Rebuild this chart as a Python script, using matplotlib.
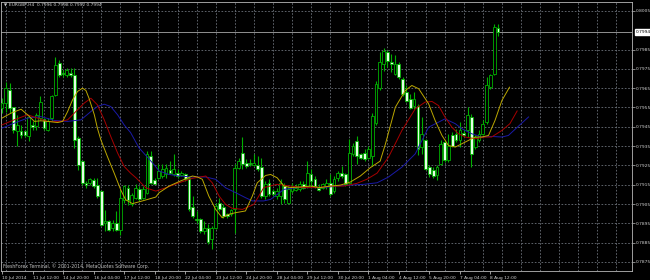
import matplotlib.pyplot as plt
from matplotlib.patches import Rectangle
from matplotlib.transforms import blended_transform_factory

# EURGBP H4 candles (one row per bar)
opens = [0.79547, 0.79572, 0.79641, 0.79552, 0.79426, 0.79426, 0.79426, 0.79400, 0.79460, 0.79452,
         0.79495, 0.79490, 0.79434, 0.79495, 0.79616, 0.79779, 0.79728, 0.79719, 0.79728, 0.79719,
         0.79391, 0.79271, 0.79159, 0.79159, 0.79176, 0.79150, 0.79116, 0.78952, 0.78960, 0.78926,
         0.78952, 0.78917, 0.79072, 0.79133, 0.79052, 0.79083, 0.79126, 0.79083, 0.79109, 0.79298,
         0.79172, 0.79186, 0.79195, 0.79203, 0.79224, 0.79203, 0.79212, 0.79200, 0.79203, 0.79186,
         0.79035, 0.78974, 0.78974, 0.78910, 0.78928, 0.78867, 0.78928, 0.79057, 0.79035, 0.78997,
         0.78997, 0.79022, 0.79238, 0.79316, 0.79264, 0.79264, 0.79250, 0.79250, 0.79243, 0.79091,
         0.79160, 0.79117, 0.79091, 0.79091, 0.79143, 0.79057, 0.79117, 0.79122, 0.79126, 0.79152,
         0.79143, 0.79203, 0.79181, 0.79135, 0.79135, 0.79143, 0.79160, 0.79117, 0.79186, 0.79212,
         0.79203, 0.79160, 0.79307, 0.79376, 0.79307, 0.79316, 0.79290, 0.79298, 0.79470, 0.79650,
         0.79776, 0.79840, 0.79784, 0.79724, 0.79776, 0.79698, 0.79629, 0.79595, 0.79560, 0.79560,
         0.79345, 0.79379, 0.79241, 0.79228, 0.79198, 0.79259, 0.79371, 0.79276, 0.79405, 0.79414,
         0.79379, 0.79417, 0.79431, 0.79500, 0.79345, 0.79379, 0.79414, 0.79474, 0.79655, 0.79724,
         0.79960]
highs = [0.79598, 0.79684, 0.79676, 0.79555, 0.79512, 0.79460, 0.79434, 0.79512, 0.79478, 0.79521,
         0.79607, 0.79495, 0.79495, 0.79616, 0.79814, 0.79797, 0.79745, 0.79753, 0.79753, 0.79753,
         0.79400, 0.79279, 0.79167, 0.79185, 0.79185, 0.79185, 0.79124, 0.79021, 0.78966, 0.78969,
         0.79012, 0.79124, 0.79150, 0.79150, 0.79109, 0.79152, 0.79143, 0.79143, 0.79324, 0.79324,
         0.79186, 0.79255, 0.79255, 0.79255, 0.79272, 0.79307, 0.79229, 0.79221, 0.79212, 0.79195,
         0.79091, 0.79014, 0.78979, 0.78962, 0.78945, 0.78936, 0.79057, 0.79083, 0.79048, 0.79005,
         0.79022, 0.79255, 0.79290, 0.79397, 0.79281, 0.79281, 0.79307, 0.79298, 0.79290, 0.79169,
         0.79178, 0.79126, 0.79135, 0.79178, 0.79160, 0.79143, 0.79160, 0.79152, 0.79169, 0.79169,
         0.79272, 0.79229, 0.79195, 0.79152, 0.79160, 0.79178, 0.79203, 0.79195, 0.79221, 0.79247,
         0.79212, 0.79385, 0.79367, 0.79402, 0.79316, 0.79333, 0.79350, 0.79522, 0.79685, 0.79836,
         0.79858, 0.79850, 0.79828, 0.79820, 0.79784, 0.79707, 0.79664, 0.79621, 0.79629, 0.79569,
         0.79500, 0.79388, 0.79250, 0.79241, 0.79250, 0.79379, 0.79379, 0.79414, 0.79422, 0.79440,
         0.79474, 0.79431, 0.79552, 0.79517, 0.79405, 0.79431, 0.79483, 0.79707, 0.79724, 0.79983,
         0.79980]
lows = [0.79521, 0.79529, 0.79521, 0.79417, 0.79348, 0.79391, 0.79395, 0.79374, 0.79434, 0.79434,
        0.79486, 0.79434, 0.79426, 0.79478, 0.79607, 0.79710, 0.79710, 0.79710, 0.79710, 0.79340,
        0.79228, 0.79150, 0.79133, 0.79150, 0.79133, 0.79081, 0.78934, 0.78909, 0.78909, 0.78909,
        0.78909, 0.78891, 0.79055, 0.79047, 0.79040, 0.79074, 0.79066, 0.79074, 0.79100, 0.79152,
        0.79152, 0.79178, 0.79186, 0.79186, 0.79203, 0.79195, 0.79186, 0.79195, 0.79169, 0.79014,
        0.78979, 0.78953, 0.78902, 0.78893, 0.78841, 0.78816, 0.78919, 0.79014, 0.78979, 0.78979,
        0.78988, 0.78900, 0.79229, 0.79229, 0.79238, 0.79247, 0.79247, 0.79221, 0.79083, 0.79074,
        0.79091, 0.79091, 0.79074, 0.79048, 0.79057, 0.79048, 0.79109, 0.79117, 0.79117, 0.79126,
        0.79135, 0.79135, 0.79135, 0.79117, 0.79126, 0.79126, 0.79091, 0.79109, 0.79169, 0.79186,
        0.79143, 0.79152, 0.79298, 0.79255, 0.79281, 0.79272, 0.79285, 0.79247, 0.79460, 0.79640,
        0.79740, 0.79760, 0.79733, 0.79716, 0.79698, 0.79612, 0.79578, 0.79543, 0.79543, 0.79302,
        0.79310, 0.79224, 0.79190, 0.79186, 0.79172, 0.79250, 0.79267, 0.79267, 0.79345, 0.79371,
        0.79345, 0.79397, 0.79397, 0.79241, 0.79336, 0.79371, 0.79405, 0.79466, 0.79647, 0.79716,
        0.79920]
closes = [0.79572, 0.79650, 0.79547, 0.79434, 0.79460, 0.79409, 0.79409, 0.79503, 0.79448, 0.79512,
          0.79581, 0.79443, 0.79478, 0.79607, 0.79771, 0.79719, 0.79722, 0.79745, 0.79719, 0.79383,
          0.79253, 0.79159, 0.79150, 0.79179, 0.79141, 0.79090, 0.78943, 0.78960, 0.78917, 0.78952,
          0.78917, 0.79081, 0.79141, 0.79072, 0.79097, 0.79134, 0.79074, 0.79126, 0.79307, 0.79160,
          0.79155, 0.79221, 0.79229, 0.79238, 0.79212, 0.79229, 0.79195, 0.79212, 0.79178, 0.79022,
          0.78988, 0.78966, 0.78910, 0.78928, 0.78855, 0.78928, 0.79040, 0.79022, 0.78988, 0.78988,
          0.79017, 0.79238, 0.79272, 0.79255, 0.79247, 0.79255, 0.79264, 0.79229, 0.79091, 0.79152,
          0.79100, 0.79100, 0.79117, 0.79160, 0.79074, 0.79126, 0.79143, 0.79135, 0.79152, 0.79135,
          0.79212, 0.79169, 0.79143, 0.79122, 0.79152, 0.79160, 0.79100, 0.79178, 0.79212, 0.79195,
          0.79152, 0.79316, 0.79350, 0.79298, 0.79290, 0.79281, 0.79333, 0.79505, 0.79670, 0.79784,
          0.79845, 0.79790, 0.79776, 0.79776, 0.79707, 0.79621, 0.79586, 0.79548, 0.79595, 0.79336,
          0.79414, 0.79233, 0.79207, 0.79193, 0.79241, 0.79362, 0.79276, 0.79353, 0.79353, 0.79379,
          0.79431, 0.79405, 0.79509, 0.79310, 0.79397, 0.79414, 0.79466, 0.79664, 0.79716, 0.79966,
          0.79940]

# Alligator lines (lips / teeth / jaw), sampled along the drawn curves
lips_bar = [0, 2.4, 5.0, 6.7, 8.5, 10.2, 11.9, 14.6, 15.9, 17.2, 18.5, 19.8, 21.1, 22.0, 22.8,
            24.2, 25.0, 25.9, 27.6, 29.4, 31.1, 32.4, 34.2, 36.8, 40.3, 41.2, 43.8, 46.4, 49.9,
            51.2, 52.5, 54.2, 56.0, 57.7, 59.5, 61.2, 63.8, 65.6, 66.9, 69.1, 70.4, 72.1, 73.9,
            75.6, 78.2, 80.8, 83.4, 86.1, 88.7, 91.3, 93.9, 96.5, 99.1, 100.5, 103.1, 105.7, 107.4,
            109.2, 111.8, 113.5, 115.3, 117.0, 118.8, 120.5, 122.2, 124.0, 125.7, 127.5, 129.2,
            131.0, 133.0]
lips_val = [0.79495, 0.79521, 0.79541, 0.79512, 0.79478, 0.79481, 0.79478, 0.79472, 0.79478, 0.79529,
            0.79590, 0.79633, 0.79650, 0.79638, 0.79598, 0.79512, 0.79443, 0.79383, 0.79297, 0.79210,
            0.79124, 0.79072, 0.79052, 0.79066, 0.79086, 0.79109, 0.79143, 0.79166, 0.79195, 0.79190,
            0.79178, 0.79091, 0.79022, 0.78979, 0.78997, 0.79005, 0.79014, 0.79091, 0.79160, 0.79198,
            0.79203, 0.79186, 0.79143, 0.79135, 0.79138, 0.79143, 0.79135, 0.79143, 0.79148, 0.79164,
            0.79195, 0.79238, 0.79272, 0.79362, 0.79552, 0.79638, 0.79664, 0.79647, 0.79569, 0.79483,
            0.79405, 0.79353, 0.79345, 0.79362, 0.79379, 0.79397, 0.79397, 0.79405, 0.79483, 0.79586,
            0.79655]
teeth_bar = [0, 3.2, 6.7, 9.3, 11.9, 15.4, 17.2, 19.8, 21.5, 23.3, 25.0, 26.8, 28.5, 30.3, 32.0,
             33.7, 35.1, 37.7, 40.3, 42.9, 46.4, 49.9, 53.4, 55.1, 56.9, 58.6, 60.3, 63.0, 65.1,
             66.0, 68.6, 72.1, 75.6, 79.1, 82.6, 86.1, 89.5, 93.0, 95.6, 98.3, 101.3, 104.8, 108.3,
             110.9, 112.7, 114.4, 116.1, 117.9, 119.6, 121.4, 124.0, 126.6, 128.3, 131.0, 133.1, 135.0]
teeth_val = [0.79460, 0.79486, 0.79512, 0.79495, 0.79478, 0.79478, 0.79486, 0.79538, 0.79572, 0.79598,
             0.79564, 0.79486, 0.79400, 0.79314, 0.79245, 0.79210, 0.79186, 0.79134, 0.79117, 0.79134,
             0.79160, 0.79183, 0.79195, 0.79160, 0.79091, 0.79048, 0.79028, 0.79022, 0.79040, 0.79048,
             0.79135, 0.79152, 0.79143, 0.79135, 0.79135, 0.79143, 0.79143, 0.79157, 0.79178, 0.79210,
             0.79293, 0.79431, 0.79543, 0.79578, 0.79581, 0.79560, 0.79500, 0.79448, 0.79414, 0.79397,
             0.79388, 0.79397, 0.79397, 0.79431, 0.79466, 0.79532]
jaw_bar = [0, 3.2, 6.7, 10.2, 13.7, 17.2, 20.7, 23.3, 25.0, 26.8, 28.5, 30.3, 32.0, 33.7, 35.9,
           39.4, 41.2, 43.8, 46.4, 49.9, 53.4, 56.0, 58.6, 61.2, 63.8, 65.6, 68.6, 70.4, 73.9, 77.3,
           80.8, 84.3, 87.8, 91.3, 94.8, 98.3, 101.3, 104.8, 108.3, 111.8, 114.4, 116.1, 118.8,
           120.5, 123.1, 125.7, 128.3, 131.0, 132.7, 136.0, 138.0]
jaw_val = [0.79443, 0.79469, 0.79495, 0.79503, 0.79483, 0.79478, 0.79486, 0.79529, 0.79555, 0.79567,
           0.79555, 0.79512, 0.79460, 0.79420, 0.79341, 0.79264, 0.79221, 0.79203, 0.79195, 0.79190,
           0.79190, 0.79178, 0.79134, 0.79109, 0.79083, 0.79066, 0.79066, 0.79074, 0.79126, 0.79135,
           0.79135, 0.79135, 0.79143, 0.79148, 0.79152, 0.79160, 0.79190, 0.79241, 0.79310, 0.79448,
           0.79474, 0.79491, 0.79466, 0.79440, 0.79414, 0.79397, 0.79400, 0.79397, 0.79405, 0.79465,
           0.79501]

time_labels = ["10 Jul 2014", "11 Jul 12:00", "14 Jul 20:00", "16 Jul 04:00", "17 Jul 12:00",
               "18 Jul 20:00", "22 Jul 04:00", "23 Jul 12:00", "24 Jul 20:00", "28 Jul 04:00",
               "29 Jul 12:00", "30 Jul 20:00", "1 Aug 04:00", "4 Aug 12:00", "5 Aug 20:00",
               "7 Aug 04:00", "8 Aug 12:00"]
price_levels = [0.7875, 0.7885, 0.7895, 0.7905, 0.7915, 0.7925, 0.7935, 0.7945, 0.7955,
                0.7965, 0.7975, 0.7985, 0.8005]
last_price = 0.7994

GREEN = "#00b000"
BEAR_FILL = "#e4ffe4"
TXT = "#d0d0d0"
GRID = "#6c727a"
plt.rcParams["font.family"] = ["DejaVu Sans"]

fig = plt.figure(figsize=(6.5, 2.8), dpi=100)
fig.patch.set_facecolor("black")
ax = fig.add_axes([1 / 650, 9 / 280, 631 / 650, 269.5 / 280])
ax.set_facecolor("black")
ax.set_xlim(-0.26, 165.1)
ax.set_ylim(0.78703, 0.80099)

# grid: dotted, horizontal at price levels, vertical every 5 bars
for lv in price_levels:
    ax.axhline(lv, color=GRID, lw=0.6, ls=(0, (2, 2)), zorder=1)
for b in range(1, 166, 5):
    ax.axvline(b, color=GRID, lw=0.6, ls=(0, (2, 2)), zorder=1)
ax.axhline(last_price, color="#a8a8a8", lw=0.6, zorder=1)

# candles
idx = list(range(len(opens)))
ax.vlines(idx, lows, highs, colors=GREEN, lw=0.8, zorder=2)
for i in idx:
    o, c = opens[i], closes[i]
    bottom = min(o, c)
    height = max(abs(c - o), 0.00003)
    face = "black" if c >= o else BEAR_FILL
    ax.add_patch(Rectangle((i - 0.36, bottom), 0.72, height, facecolor=face,
                           edgecolor=GREEN, lw=0.6, zorder=3))

ax.plot(jaw_bar, jaw_val, color="#1a1aa8", lw=0.7, zorder=4)
ax.plot(teeth_bar, teeth_val, color="#a80000", lw=0.7, zorder=4)
ax.plot(lips_bar, lips_val, color="#bca800", lw=0.7, zorder=4)

for s in ax.spines.values():
    s.set_color("#b8b8b8")
    s.set_linewidth(0.6)

ax.yaxis.tick_right()
ax.set_yticks(price_levels)
ax.set_yticklabels(["%.4f" % v for v in price_levels])
ax.tick_params(axis="y", length=2, width=0.5, color="#b8b8b8", labelcolor=TXT,
               labelsize=3.2, pad=1)

ax.set_xticks([8 * k for k in range(len(time_labels))])
ax.set_xticklabels(time_labels, ha="left")
ax.tick_params(axis="x", length=2.5, width=0.5, color="#d8d8d8", labelcolor=TXT,
               labelsize=3.2, pad=0.8)

# current price box
tr = blended_transform_factory(ax.transAxes, ax.transData)
ax.text(1.006, last_price, "%.4f" % last_price, transform=tr, fontsize=3.2,
        color="black", va="center", ha="left",
        bbox=dict(facecolor="white", edgecolor="white", pad=0.8))

fig.text(4 / 650, 1 - 5.5 / 280, "\u25bc", fontsize=2.6, color=TXT, va="center")
fig.text(9 / 650, 1 - 5.5 / 280, "EURGBP,H4  0.7996 0.7998 0.7992 0.7994",
         fontsize=3.2, color=TXT, va="center")
fig.text(3 / 650, 1 - 266.5 / 280,
         "FreshForex Terminal, \u00a9 2001-2014, MetaQuotes Software Corp.",
         fontsize=3.3, color="#c0c0c0", va="center")

fig.savefig("out.png", dpi=100, facecolor="black")
